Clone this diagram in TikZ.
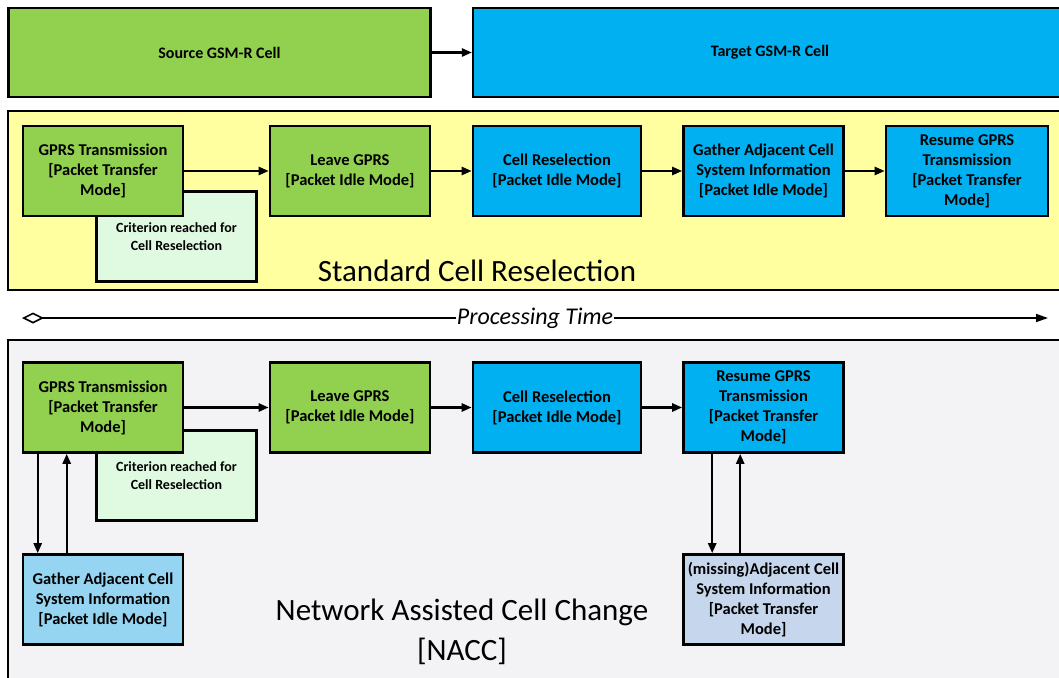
\documentclass[tikz,border=0pt]{standalone}
\usepackage{fontspec}
\setmainfont{Carlito}
\usetikzlibrary{arrows.meta}
\definecolor{cgreen}{HTML}{92D050}
\definecolor{cblue}{HTML}{00B0F0}
\definecolor{cyellow}{HTML}{FFFFA0}
\definecolor{clgreen}{HTML}{E0FAE2}
\definecolor{cpanel}{HTML}{F3F3F6}
\definecolor{cskyblue}{HTML}{95D5F2}
\definecolor{clav}{HTML}{C6D6EC}
\tikzset{
  box/.style={draw=black, line width=2.6pt, minimum width=160pt, minimum height=90pt, inner sep=1pt,
    align=center, font=\fontsize{16.5}{20}\selectfont\bfseries},
  greenbox/.style={box, fill=cgreen},
  bluebox/.style={box, fill=cblue},
  critbox/.style={box, fill=clgreen, font=\fontsize{14}{18}\selectfont\bfseries},
  panel/.style={draw=black, line width=2.2pt},
  headfont/.style={font=\fontsize{16}{19}\selectfont\bfseries},
  arr/.style={line width=2.4pt, -{Triangle[length=10pt,width=8pt]}},
  bigtext/.style={font=\fontsize{31}{40}\selectfont, align=center},
}
\begin{document}
\begin{tikzpicture}[x=1pt,y=-1pt]
\useasboundingbox (0,0) rectangle (1059,677);
\clip (0,0) rectangle (1059,677);
\fill[white] (0,0) rectangle (1059,677);
% top header cells
\node[panel, fill=cgreen, minimum width=422pt, minimum height=89pt, inner sep=0pt, headfont] (src) at (219.5,52.5) {Source GSM-R Cell};
\node[panel, fill=cblue, minimum width=592pt, minimum height=89pt, inner sep=0pt] (tgt) at (769,52.5) {};
\node[headfont] (tgtlabel) at (770,52.5) {Target GSM-R Cell};
\draw[arr] (src.east) -- (tgt.west);
% standard panel
\node[panel, fill=cyellow, minimum width=1060pt, minimum height=179pt, inner sep=0pt] (stdpanel) at (538,200.5) {};
\node[critbox] (c1) at (176.5,236.5) {Criterion reached for\\Cell Reselection};
\node[greenbox] (g1) at (103,171) {GPRS Transmission\\{}[Packet Transfer\\Mode]};
\node[greenbox] (l1) at (350,171) {Leave GPRS\\{}[Packet Idle Mode]};
\node[bluebox, minimum width=168pt] (r1) at (557,171) {Cell Reselection\\{}[Packet Idle Mode]};
\node[bluebox] (ga1) at (763.5,171) {Gather Adjacent Cell\\System Information\\{}[Packet Idle Mode]};
\node[bluebox, minimum width=162pt] (rs1) at (967,171) {Resume GPRS\\Transmission\\{}[Packet Transfer\\Mode]};
\draw[arr] (g1.east) -- (l1.west);
\draw[arr] (l1.east) -- (r1.west);
\draw[arr] (r1.east) -- (ga1.west);
\draw[arr] (ga1.east) -- (rs1.west);
\node[bigtext] (stdlabel) at (477,271) {Standard Cell Reselection};
% processing time
\coordinate (ptstart) at (22,318);
\coordinate (ptend) at (1048,318);
\node[font=\fontsize{24}{28}\selectfont\itshape, inner sep=1pt] (ptlabel) at (535,318) {Processing Time};
\draw[line width=1.6pt, {Diamond[open,length=22pt,width=11pt]}-] (ptstart) -- (ptlabel.west);
\draw[line width=1.6pt, -{Triangle[length=12pt,width=8pt]}] (ptlabel.east) -- (ptend);
% NACC panel
\node[panel, fill=cpanel, minimum width=1060pt, minimum height=360pt, inner sep=0pt] (naccpanel) at (538,520) {};
\node[critbox] (c2) at (176.5,475.5) {Criterion reached for\\Cell Reselection};
\node[greenbox] (g2) at (103,407.5) {GPRS Transmission\\{}[Packet Transfer\\Mode]};
\node[greenbox] (l2) at (350,407.5) {Leave GPRS\\{}[Packet Idle Mode]};
\node[bluebox, minimum width=168pt] (r2) at (557,407.5) {Cell Reselection\\{}[Packet Idle Mode]};
\node[bluebox] (rs2) at (763.5,407.5) {Resume GPRS\\Transmission\\{}[Packet Transfer\\Mode]};
\node[box, fill=cskyblue] (ga2) at (103,599.5) {Gather Adjacent Cell\\System Information\\{}[Packet Idle Mode]};
\node[box, fill=clav] (ms2) at (763.5,599.5) {(missing)Adjacent Cell\\System Information\\{}[Packet Transfer\\Mode]};
\draw[arr] (g2.east) -- (l2.west);
\draw[arr] (l2.east) -- (r2.west);
\draw[arr] (r2.east) -- (rs2.west);
\draw[arr] ([xshift=16pt]g2.south west) -- ([xshift=16pt]ga2.north west);
\draw[arr] ([xshift=45pt]ga2.north west) -- ([xshift=45pt]g2.south west);
\draw[arr] ([xshift=30pt]rs2.south west) -- ([xshift=30pt]ms2.north west);
\draw[arr] ([xshift=58pt]ms2.north west) -- ([xshift=58pt]rs2.south west);
\node[bigtext] (nacclabel) at (462,632) {Network Assisted Cell Change\\{}[NACC]};
\end{tikzpicture}
\end{document}
